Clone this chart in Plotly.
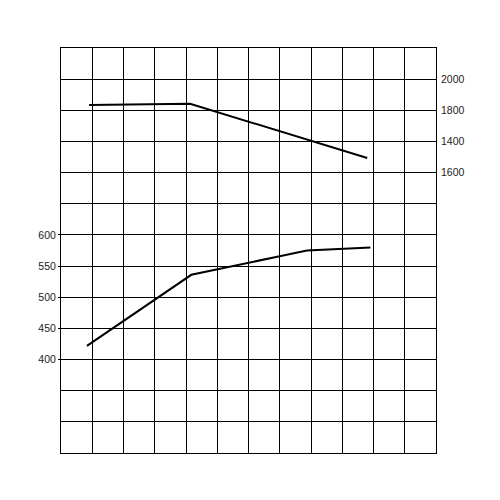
import plotly.graph_objects as go

# Data
lower_x = [0.83, 4.17, 7.87, 9.9]
lower_y = [422, 536, 575, 580]
upper_x = [0.9, 4.13, 9.8]
upper_y = [1834, 1842, 1494]

left_tickvals = [400, 450, 500, 550, 600]
left_ticktext = ["400", "450", "500", "550", "600"]
right_tickvals = [2000, 1800, 1600, 1400]
right_ticktext = ["2000", "1800", "1400", "1600"]

font = dict(family="Liberation Sans, Arial, sans-serif", size=10.5, color="#222")

fig = go.Figure()
fig.add_trace(go.Scatter(x=lower_x, y=lower_y, mode="lines",
                         line=dict(color="black", width=2), yaxis="y", showlegend=False))
fig.add_trace(go.Scatter(x=upper_x, y=upper_y, mode="lines",
                         line=dict(color="black", width=2), yaxis="y2", showlegend=False))

fig.update_layout(
    width=500, height=500,
    margin=dict(l=53, r=72, t=40, b=55),
    paper_bgcolor="white", plot_bgcolor="white",
    font=font,
    xaxis=dict(range=[0, 12], dtick=1, tick0=0, showgrid=True, gridcolor="black",
               gridwidth=1, showticklabels=False, zeroline=False, ticks="",
               showline=True, linecolor="black", linewidth=1, mirror=True),
    yaxis=dict(range=[250, 900], tickmode="array", tickvals=left_tickvals,
               ticktext=left_ticktext, showgrid=True, gridcolor="black", gridwidth=1,
               minor=dict(dtick=50, tick0=0, showgrid=True, gridcolor="black", gridwidth=1),
               zeroline=False, ticks="outside", ticklen=2, tickcolor="black",
               showline=True, linecolor="black", linewidth=1, mirror=True),
    yaxis2=dict(range=[-400, 2200], overlaying="y", side="right", tickmode="array",
                tickvals=right_tickvals, ticktext=right_ticktext, showgrid=False,
                zeroline=False, ticks="", showline=False, ticklabelstandoff=4),
)

fig.write_html("out.html")
